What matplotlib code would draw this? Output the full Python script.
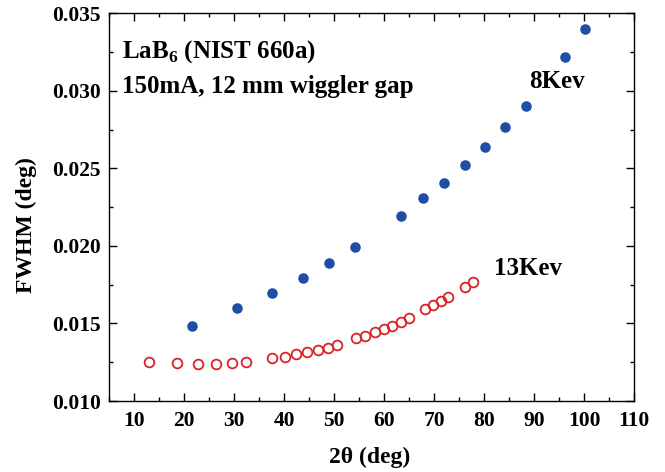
import matplotlib
matplotlib.use("Agg")
import matplotlib.pyplot as plt
from matplotlib.ticker import MultipleLocator, FormatStrFormatter

plt.rcParams['font.family'] = ['Liberation Serif', 'DejaVu Serif']
plt.rcParams['mathtext.fontset'] = 'custom'
plt.rcParams['mathtext.rm'] = 'Liberation Serif'
plt.rcParams['mathtext.bf'] = 'Liberation Serif:bold'

# 8 keV data
x8 = [21.5, 30.5, 37.6, 43.7, 49.0, 54.2, 63.4, 67.8, 72.0, 76.2, 80.2, 84.2, 88.3, 96.1, 100.2]
y8 = [0.01483, 0.01597, 0.01694, 0.01795, 0.01892, 0.01991, 0.02196, 0.02309,
      0.02406, 0.02520, 0.02641, 0.02767, 0.02905, 0.03220, 0.03397]

# 13 keV data
x13 = [13.0, 18.5, 22.7, 26.3, 29.6, 32.4, 37.6, 40.1, 42.3, 44.5, 46.7, 48.7, 50.6,
       54.3, 56.2, 58.1, 59.9, 61.6, 63.3, 65.0, 68.2, 69.7, 71.3, 72.8, 76.1, 77.7]
y13 = [0.01254, 0.01244, 0.01241, 0.01241, 0.01248, 0.01254, 0.01276, 0.01287, 0.01300,
       0.01315, 0.01328, 0.01345, 0.01362, 0.01405, 0.01422, 0.01442, 0.01466, 0.01485,
       0.01509, 0.01537, 0.01591, 0.01619, 0.01647, 0.01672, 0.01737, 0.01767]

xticks = [10, 20, 30, 40, 50, 60, 70, 80, 90, 100, 110]

fig = plt.figure(figsize=(6.65, 4.72), dpi=100)
ax = fig.add_axes([0.1644, 0.1504, 0.7895, 0.8214])

ax.plot(x8, y8, 'o', color='#1f4ea6', markersize=7.6, markeredgewidth=0)
ax.plot(x13, y13, 'o', markerfacecolor='none', markeredgecolor='#d8232a',
        markersize=7.0, markeredgewidth=1.3)

ax.set_xlim(5, 110)
ax.set_ylim(0.010, 0.035)
ax.set_xticks(xticks)
ax.xaxis.set_minor_locator(MultipleLocator(5))
ax.yaxis.set_major_locator(MultipleLocator(0.005))
ax.yaxis.set_minor_locator(MultipleLocator(0.0025))
ax.yaxis.set_major_formatter(FormatStrFormatter('%.3f'))
ax.tick_params(which='both', direction='in', top=True, right=True, width=1.0)
ax.tick_params(which='major', length=6, labelsize=15.5)
ax.tick_params(axis='x', which='major', pad=7)
ax.tick_params(axis='y', which='major', pad=6)
ax.tick_params(which='minor', length=3)
for lab in ax.get_xticklabels() + ax.get_yticklabels():
    lab.set_fontweight('bold')
for s in ax.spines.values():
    s.set_linewidth(1.0)

fig.text(370 / 665, 1 - 457 / 472, '2θ (deg)', fontsize=17, fontweight='bold',
         ha='center', va='center')
fig.text(26.5 / 665, 1 - 225 / 472, 'FWHM (deg)', fontsize=17, fontweight='bold',
         ha='center', va='center', rotation=90)

ax.text(7.6, 0.03253, r'LaB$_{\mathbf{6}}$ (NIST 660a)', fontsize=18, fontweight='bold', va='center')
ax.text(7.6, 0.03026, '150mA, 12 mm wiggler gap', fontsize=18, fontweight='bold', va='center')
ax.text(89.0, 0.03058, '8Kev', fontsize=18, fontweight='bold', va='center')
ax.text(82.0, 0.01856, '13Kev', fontsize=18, fontweight='bold', va='center')

fig.savefig('out.png', dpi=100)
